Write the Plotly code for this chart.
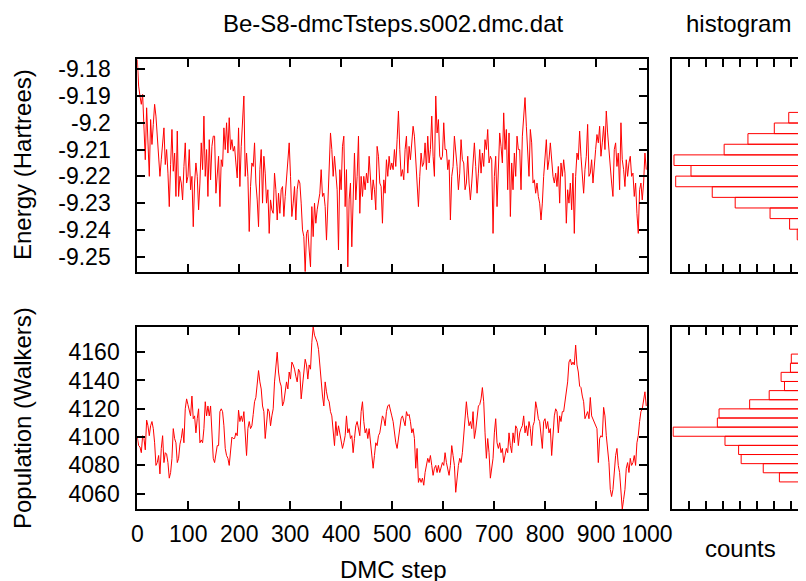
import plotly.graph_objects as go

W, H = 806, 581
# the page body keeps its default 8px margin, so positions are given in window
# pixels and shifted by that offset
BODY = 8

# local energy, one sample every STEP_SPACING DMC steps
energy = [
    -9.1763, -9.1863, -9.19, -9.1931, -9.1894,
    -9.2038, -9.2138, -9.1944, -9.2088, -9.22, -9.1988, -9.2081, -9.2006, -9.1931, -9.1975,
    -9.205, -9.2138, -9.22, -9.2138, -9.2075, -9.2019, -9.2156, -9.21, -9.2188, -9.2313,
    -9.2156, -9.2025, -9.2181, -9.2113, -9.2275, -9.2031, -9.2275, -9.22, -9.2225, -9.2288,
    -9.2163, -9.2075, -9.2225, -9.22, -9.21, -9.225, -9.22, -9.2388, -9.2225, -9.215,
    -9.22, -9.2325, -9.2225, -9.2075, -9.2175, -9.1975, -9.22, -9.21, -9.2275, -9.2063,
    -9.2213, -9.2088, -9.205, -9.205, -9.2263, -9.2188, -9.2125, -9.2313, -9.2138, -9.2163,
    -9.2019, -9.21, -9.2, -9.2113, -9.1981, -9.21, -9.2063, -9.2106, -9.2088, -9.215,
    -9.2206, -9.2019, -9.2238, -9.2088, -9.2013, -9.19, -9.22, -9.2113, -9.22, -9.2406,
    -9.2238, -9.215, -9.2163, -9.2075, -9.2225, -9.2288, -9.2388, -9.2175, -9.21, -9.23,
    -9.2125, -9.2188, -9.23, -9.225, -9.2413, -9.2288, -9.2325, -9.2338, -9.2188, -9.225,
    -9.2363, -9.2263, -9.2338, -9.225, -9.2238, -9.235, -9.2275, -9.22, -9.2125, -9.2075,
    -9.22, -9.235, -9.23, -9.2238, -9.2363, -9.225, -9.2213,
    -9.2225, -9.23, -9.24, -9.2425, -9.2556, -9.2413, -9.24, -9.2475, -9.2538, -9.2313,
    -9.2425, -9.23, -9.2375, -9.2325, -9.23, -9.2263, -9.2175, -9.2275, -9.2263, -9.2313,
    -9.2438, -9.23, -9.21, -9.2038, -9.21, -9.22, -9.2125, -9.22, -9.225, -9.2475,
    -9.2175, -9.225, -9.2088, -9.205, -9.2313, -9.2175, -9.2538, -9.2288, -9.2225, -9.2463,
    -9.2325, -9.2113, -9.2288, -9.22, -9.205, -9.2338, -9.22, -9.2275, -9.22, -9.225,
    -9.2188, -9.2225, -9.2125, -9.22, -9.2288, -9.2213, -9.225, -9.2325, -9.2088, -9.2125,
    -9.2225, -9.2238, -9.2375, -9.2213, -9.2263, -9.2138, -9.22, -9.2125, -9.2175, -9.215,
    -9.2175, -9.21, -9.2163, -9.2063, -9.1956, -9.21, -9.22, -9.2175, -9.2213, -9.21,
    -9.205, -9.2188, -9.2088, -9.2138, -9.2075, -9.2013, -9.205, -9.215, -9.22, -9.2313,
    -9.22, -9.2113, -9.2163, -9.215, -9.2075, -9.2175, -9.205, -9.215, -9.21, -9.1975,
    -9.2125, -9.22, -9.19, -9.2038, -9.1988, -9.2125, -9.2138, -9.2125, -9.2, -9.21,
    -9.21, -9.2175, -9.2138, -9.2363, -9.22, -9.2163, -9.205, -9.21, -9.2163, -9.225,
    -9.2188, -9.2063, -9.2138, -9.215, -9.225, -9.2225, -9.2125, -9.2225,
    -9.2288, -9.2225, -9.215, -9.2075, -9.2163, -9.2263, -9.2188, -9.21, -9.2188, -9.2113,
    -9.2163, -9.2063, -9.21, -9.2025, -9.215, -9.2125, -9.2138, -9.2413, -9.22, -9.2125,
    -9.2313, -9.22, -9.2038, -9.2088, -9.215, -9.1963, -9.21, -9.2025, -9.225, -9.2038,
    -9.235, -9.215, -9.225, -9.2113, -9.22, -9.205, -9.21, -9.21, -9.225, -9.205,
    -9.1975, -9.1906, -9.2013, -9.2125, -9.22, -9.2025, -9.2075, -9.2225, -9.2213, -9.2263,
    -9.2225, -9.2275, -9.23, -9.2363, -9.23, -9.22, -9.2125, -9.2063, -9.2175, -9.2138,
    -9.2075, -9.2138, -9.22, -9.2225, -9.2188, -9.2238, -9.2163, -9.23, -9.215, -9.22,
    -9.2138, -9.2188, -9.2375, -9.225, -9.23, -9.2225, -9.2325, -9.2188, -9.2413, -9.22,
    -9.2113, -9.2138, -9.2031, -9.2125, -9.22, -9.2263, -9.2175, -9.2125, -9.2006, -9.22,
    -9.2188, -9.2138, -9.2225, -9.2175, -9.21, -9.2044, -9.2075, -9.2013, -9.2125, -9.2075,
    -9.2013, -9.21, -9.1956, -9.2038, -9.2113, -9.2175, -9.2225, -9.2275, -9.21, -9.2075,
    -9.2163, -9.2113, -9.225, -9.2, -9.2138, -9.2175, -9.2238, -9.2138, -9.22, -9.215,
    -9.2125, -9.22, -9.2188, -9.2275, -9.2225, -9.2338, -9.2413, -9.225, -9.2225, -9.2288,
    -9.2225, -9.2113, -9.2175,
]

# walker population, same sampling
population = [
    4100, 4094, 4093, 4089, 4101, 4099, 4091, 4112, 4108, 4101,
    4108, 4111, 4106, 4096, 4080, 4082, 4087, 4074, 4092, 4101,
    4082, 4089, 4088, 4082, 4071, 4075, 4085, 4106, 4099, 4096,
    4082, 4085, 4095, 4099, 4106, 4096, 4120, 4127, 4123, 4118,
    4115, 4129, 4113, 4115, 4103, 4113, 4120, 4096, 4098, 4096,
    4106, 4125, 4115, 4122, 4115, 4122, 4103, 4085, 4082, 4087,
    4094, 4094, 4118, 4120, 4118, 4108, 4092, 4087, 4085, 4080,
    4092, 4100, 4099, 4099, 4103, 4101, 4119, 4111, 4115, 4111,
    4118, 4103, 4087, 4106, 4111, 4106, 4108, 4116, 4125, 4128,
    4141, 4147, 4139, 4134, 4122, 4118, 4099, 4111, 4120, 4118,
    4108, 4115, 4120, 4139, 4153, 4160, 4146, 4139, 4136, 4122,
    4125, 4132, 4139, 4134, 4146, 4141, 4153, 4151, 4148, 4143,
    4139, 4148,
    4146, 4127, 4136, 4143, 4155, 4151, 4141, 4151, 4148, 4167,
    4178, 4172, 4169, 4167, 4162, 4151, 4136, 4129, 4122, 4139,
    4132, 4127, 4125, 4118, 4115, 4103, 4094, 4111, 4101, 4108,
    4103, 4099, 4092, 4096, 4101, 4115, 4103, 4106, 4099, 4101,
    4089, 4099, 4108, 4111, 4106, 4101, 4118, 4125, 4111, 4103,
    4106, 4099, 4106, 4096, 4089, 4078, 4087, 4096, 4094, 4101,
    4103, 4111, 4115, 4113, 4108, 4118, 4122, 4123, 4118, 4115,
    4111, 4103, 4096, 4092, 4099, 4103, 4113, 4115, 4111, 4108,
    4118, 4115, 4116, 4111, 4103, 4106, 4099, 4078, 4092, 4068,
    4071, 4068, 4071, 4066, 4075, 4080, 4085, 4082, 4087, 4080,
    4073, 4078, 4080, 4075, 4080, 4075, 4078, 4082, 4080, 4089,
    4082, 4078, 4073, 4080, 4094, 4087, 4080, 4061, 4071, 4080,
    4085, 4082, 4089, 4103, 4115, 4125, 4115, 4108,
    4111, 4106, 4118, 4099, 4105, 4115, 4122, 4123, 4127, 4135,
    4125, 4103, 4085, 4099, 4089, 4071, 4078, 4085, 4103, 4113,
    4096, 4092, 4096, 4089, 4092, 4082, 4087, 4092, 4089, 4103,
    4094, 4089, 4103, 4096, 4108, 4106, 4094, 4103, 4106, 4108,
    4115, 4103, 4108, 4101, 4111, 4106, 4094, 4108, 4111, 4125,
    4120, 4113, 4111, 4099, 4092, 4111, 4113, 4106, 4111, 4103,
    4106, 4087, 4103, 4115, 4120, 4118, 4103, 4115, 4111, 4118,
    4118, 4125, 4129, 4139, 4153, 4155, 4151, 4153, 4151, 4165,
    4151, 4146, 4136, 4135, 4129, 4125, 4113, 4115, 4118, 4113,
    4128, 4115, 4113, 4111, 4109, 4106, 4082, 4099, 4101, 4100,
    4121, 4115, 4101, 4089, 4082, 4063, 4058, 4063, 4075, 4087,
    4092, 4080, 4075, 4061, 4049, 4056, 4063, 4078, 4082, 4075,
    4085, 4080, 4082, 4087, 4080, 4096, 4101, 4111, 4118, 4120,
    4127, 4132, 4122,
]
STEP_SPACING = 2.614

# histogram counts, 20 bins over the data range, lowest bin first
energy_counts = [2, 4, 9, 13, 22, 45, 86, 113, 156, 138,
                 158, 99, 71, 40, 23, 11, 7, 2, 2, 1]
population_counts = [2, 9, 11, 34, 53, 79, 82, 98, 159, 107,
                     105, 69, 46, 28, 32, 21, 20, 5, 8, 5]

energy_ticks = [-9.25, -9.24, -9.23, -9.22, -9.21, -9.2, -9.19, -9.18]
population_ticks = [4060, 4080, 4100, 4120, 4140, 4160]
step_ticks = [0, 100, 200, 300, 400, 500, 600, 700, 800, 900, 1000]
count_ticks = [0, 20, 40, 60, 80, 100, 120, 140, 160]

FONT = "Arial, Liberation Sans, sans-serif"


def bins(values, n):
    lo, hi = min(values), max(values)
    w = (hi - lo) / n
    return [lo + (i + 0.5) * w for i in range(n)], w


def px(x):
    return (x - BODY) / W


def py(y):
    return 1 - (y - BODY) / H


def ticktext(vals):
    return [f"{v:g}" for v in vals]


e_centres, e_w = bins(energy, len(energy_counts))
p_centres, p_w = bins(population, len(population_counts))
e_range = [min(energy), max(energy)]
p_range = [min(population), max(population)]

fig = go.Figure()
fig.add_trace(go.Scatter(y=energy, x0=0, dx=STEP_SPACING, mode="lines",
                         line=dict(color="#ff0000", width=1), xaxis="x", yaxis="y"))
fig.add_trace(go.Scatter(y=population, x0=0, dx=STEP_SPACING, mode="lines",
                         line=dict(color="#ff0000", width=1), xaxis="x2", yaxis="y2"))
for counts, centres, w, xa, ya in [(energy_counts, e_centres, e_w, "x3", "y3"),
                                    (population_counts, p_centres, p_w, "x4", "y4")]:
    fig.add_trace(go.Bar(x=counts, y=centres, width=w, orientation="h", base=0,
                         marker=dict(color="rgba(0,0,0,0)", line=dict(color="#ff0000", width=1)),
                         xaxis=xa, yaxis=ya))

axis = dict(showline=True, linecolor="black", linewidth=2, showgrid=False, zeroline=False,
            automargin=False, ticks="inside", ticklen=8, tickwidth=1.5, tickcolor="black",
            tickfont=dict(family=FONT, size=23, color="black"), tickmode="array")

main_x = [px(137.3), px(647)]
hist_x = [px(672.3), px(808.3)]
top_y = [py(271.7), py(59.3)]
bot_y = [py(509.3), py(326.7)]

fig.update_layout(
    width=W, height=H, margin=dict(l=0, r=0, t=0, b=0),
    paper_bgcolor="white", plot_bgcolor="white", showlegend=False, barmode="overlay",
    xaxis=dict(axis, domain=main_x, anchor="y", range=[0, 1000], mirror="ticks",
               tickvals=step_ticks, showticklabels=False),
    yaxis=dict(axis, domain=top_y, anchor="x", range=e_range, mirror="ticks",
               tickvals=energy_ticks, ticktext=ticktext(energy_ticks), ticklabelstandoff=20),
    xaxis2=dict(axis, domain=main_x, anchor="y2", range=[0, 1000], mirror="ticks",
                tickvals=step_ticks, ticktext=ticktext(step_ticks), ticklabelstandoff=3),
    yaxis2=dict(axis, domain=bot_y, anchor="x2", range=p_range, mirror="ticks",
                tickvals=population_ticks, ticktext=ticktext(population_ticks), ticklabelstandoff=11),
    xaxis3=dict(axis, domain=hist_x, anchor="y3", range=[160, 0], mirror="ticks",
                tickvals=count_ticks, showticklabels=False),
    yaxis3=dict(axis, domain=top_y, anchor="x3", side="right", range=e_range, mirror=True,
                tickvals=energy_ticks, showticklabels=False),
    xaxis4=dict(axis, domain=hist_x, anchor="y4", range=[160, 0], mirror="ticks",
                tickvals=count_ticks, showticklabels=False),
    yaxis4=dict(axis, domain=bot_y, anchor="x4", side="right", range=p_range, mirror=True,
                tickvals=population_ticks, showticklabels=False),
)

labels = [
    ("Be-S8-dmcTsteps.s002.dmc.dat", 393, 23, 0),
    ("histogram", 738, 23, 0),
    ("counts", 740, 548, 0),
    ("DMC step", 393, 569, 0),
    ("Energy (Hartrees)", 22, 165, -90),
    ("Population (Walkers)", 22, 418, -90),
]
for text, x, y, angle in labels:
    fig.add_annotation(text=text, x=px(x), y=py(y), xref="paper", yref="paper",
                       xanchor="center", yanchor="middle", showarrow=False, textangle=angle,
                       font=dict(family=FONT, size=24, color="black"))

fig.write_html("out.html")
